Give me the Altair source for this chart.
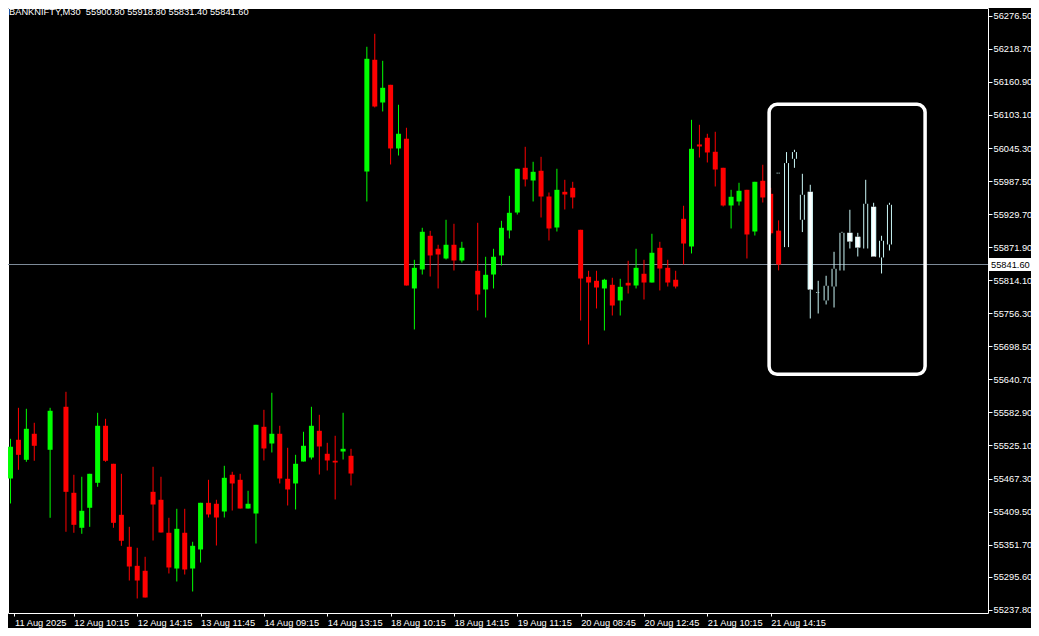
import json
import altair as alt
import pandas as pd

# ---------------- data ----------------
slot = [0, 1, 2, 3, 5, 7, 8, 9, 10, 11, 12, 13, 14, 15, 16, 17, 18, 19, 20, 21, 22, 23, 24, 25, 26, 27,
        28, 29, 30, 31, 32, 33, 34, 35, 36, 37, 38, 39, 40, 41, 42, 43,
        45, 46, 47, 48, 49, 50, 51, 52, 53, 54, 55, 56, 57,
        59, 60, 61, 62, 63, 64, 65, 66, 67, 68, 69, 70, 71, 72, 73, 74, 75, 76, 77, 78, 79, 80,
        81, 82, 83, 84, 85, 86, 87, 88, 89, 90, 91, 92, 93, 94, 95, 96, 97]
op = [55467.4, 55535.1, 55500.1, 55545.6, 55517.6, 55592.8, 55442.4, 55381.2, 55416.2, 55459.9,
      55559.6, 55493.1, 55403.9, 55348.0, 55314.7, 55306.0, 55444.1, 55430.2, 55372.5, 55310.0,
      55372.5, 55310.0, 55343.3, 55424.9, 55423.2, 55409.7, 55473.9, 55465.1, 55414.9, 55406.2,
      55557.8, 55528.6, 55545.6, 55466.9, 55458.7, 55497.1, 55504.1, 55550.8, 55510.6, 55498.4,
      55514.6, 55507.1,
      56004.2, 56199.6, 56124.9, 56155.8, 56044.5, 56061.4, 55799.7, 55832.9, 55891.8, 55869.1,
      55852.1, 55876.1, 55848.6,
      55830.6, 55797.9, 55824.1, 55857.4, 55901.1, 55932.5, 56010.7, 55988.5, 56005.5, 55960.5,
      55906.3, 55968.7, 55975.7, 55902.3, 55820.1, 55813.1, 55799.7, 55806.1, 55778.7, 55809.6,
      55804.9, 55825.4, 55810.1, 55870.8, 55835.8, 55814.9, 55921.5, 55873.1, 56051.5, 56063.2,
      56038.7, 56010.7, 55944.8, 55951.8, 55972.2, 55899.3, 55988.0, 55965.2, 55900.8]
hi = [55536.8, 55591.0, 55589.3, 55564.8, 55591.0, 55619.0, 55473.9, 55470.4, 55475.6, 55582.3,
      55571.8, 55493.1, 55475.6, 55382.9, 55346.2, 55330.5, 55487.9, 55470.4, 55398.7, 55414.4,
      55414.4, 55356.7, 55424.9, 55465.1, 55430.2, 55489.6, 55479.1, 55475.6, 55445.9, 55561.3,
      55587.5, 55617.3, 55559.6, 55521.1, 55508.8, 55549.1, 55592.8, 55578.8, 55529.8, 55542.1,
      55582.3, 55519.3,
      56222.3, 56245.0, 56197.8, 56155.8, 56120.9, 56080.7, 55849.8, 55905.8, 55900.5, 55876.1,
      55919.8, 55912.8, 55881.3,
      55914.5, 55855.1, 55869.1, 55918.0, 55961.7, 56009.0, 56047.4, 56021.2, 56029.9, 55967.5,
      56009.0, 55989.7, 55986.2, 55902.3, 55830.6, 55830.6, 55816.6, 55818.4, 55816.6, 55848.1,
      55869.1, 55849.8, 55895.3, 55881.3, 55849.8, 55830.6, 55944.3, 56094.6, 56085.9, 56070.2,
      56073.7, 56010.7, 55972.2, 55984.5, 55972.2, 55986.2, 56016.0, 55975.7, 55918.8]
lo = [55423.7, 55482.6, 55496.6, 55498.4, 55398.7, 55374.2, 55372.5, 55370.7, 55382.9, 55452.9,
      55496.6, 55381.2, 55349.7, 55289.0, 55257.6, 55259.3, 55359.0, 55373.0, 55301.3, 55287.3,
      55299.5, 55269.8, 55320.5, 55399.2, 55350.2, 55399.2, 55411.4, 55414.9, 55414.9, 55353.7,
      55498.9, 55512.9, 55458.7, 55420.2, 55413.2, 55497.1, 55500.6, 55474.4, 55481.4, 55430.7,
      55500.6, 55455.2,
      55951.8, 56116.2, 56109.2, 56016.5, 56032.2, 55804.9, 55728.0, 55824.1, 55820.6, 55799.7,
      55850.4, 55831.1, 55845.1,
      55761.2, 55748.9, 55799.7, 55839.9, 55887.1, 55929.0, 55978.0, 55951.8, 55923.8, 55883.6,
      55899.3, 55937.8, 55939.5, 55743.7, 55701.7, 55764.7, 55726.2, 55752.4, 55752.4, 55790.9,
      55799.7, 55780.4, 55810.1, 55796.2, 55803.1, 55799.7, 55841.6, 55860.9, 56028.7, 56020.0,
      55978.0, 55943.0, 55904.6, 55944.8, 55852.1, 55892.3, 55950.0, 55893.5, 55831.4]
cl = [55522.8, 55508.8, 55554.3, 55524.6, 55585.8, 55444.1, 55386.4, 55410.9, 55475.6, 55559.6,
      55498.4, 55389.9, 55358.5, 55313.5, 55289.0, 55259.3, 55421.9, 55373.0, 55311.8, 55379.4,
      55308.3, 55349.7, 55424.9, 55404.5, 55399.2, 55468.6, 55458.7, 55414.9, 55423.2, 55561.3,
      55519.9, 55545.6, 55467.4, 55448.2, 55493.1, 55524.6, 55559.6, 55523.4, 55498.9, 55495.4,
      55519.3, 55476.1,
      56201.3, 56117.9, 56150.6, 56044.5, 56070.2, 55804.9, 55835.8, 55898.8, 55857.4, 55859.1,
      55876.1, 55848.6, 55870.8,
      55789.2, 55823.6, 55855.1, 55905.8, 55932.0, 56009.0, 55990.3, 56003.7, 55960.5, 55904.6,
      55972.2, 55964.0, 55958.8, 55817.1, 55810.1, 55801.4, 55814.9, 55769.9, 55802.6, 55804.9,
      55835.8, 55810.1, 55862.1, 55834.6, 55810.1, 55803.1, 55878.3, 56043.9, 56048.0, 56037.5,
      56007.7, 55944.8, 55960.0, 55970.5, 55894.1, 55986.2, 55958.8, 55896.2, 55841.6]

# overlay ("ghost") candles inside the highlighted box
g_slot = [97, 98, 99, 100, 101, 102, 103, 104, 105, 106, 107, 108, 109, 110, 111]
g_op = [56001.4, 55872.0, 56026.4, 55919.8, 55968.7, 55792.7, 55778.7, 55803.1, 55831.1, 55897.0,
        55890.1, 55869.6, 55942.5, 55853.9, 55876.6]
g_hi = [56001.4, 56038.2, 56042.2, 56000.2, 55981.0, 55813.1, 55821.9, 55863.8, 55898.8, 55937.3,
        55897.0, 55989.7, 55949.5, 55891.8, 55949.5]
g_lo = [56001.4, 55872.0, 56010.7, 55898.3, 55747.2, 55755.9, 55771.7, 55766.4, 55831.1, 55869.6,
        55855.6, 55869.6, 55855.6, 55825.9, 55866.1]
g_cl = [56001.4, 56018.9, 56038.2, 55963.5, 55797.9, 55792.7, 55804.4, 55834.1, 55897.0, 55881.8,
        55871.3, 55947.8, 55855.6, 55883.1, 55946.0]

date_ticks = [0.5, 8, 16, 24, 32, 40, 48, 56, 64, 72, 80, 88, 96]
date_labels = ["11 Aug 2025", "12 Aug 10:15", "12 Aug 14:15", "13 Aug 11:45", "14 Aug 09:15",
               "14 Aug 13:15", "18 Aug 10:15", "18 Aug 14:15", "19 Aug 11:15", "20 Aug 08:45",
               "20 Aug 12:45", "21 Aug 10:15", "21 Aug 14:15"]
price_ticks = [56276.50, 56218.70, 56160.90, 56103.10, 56045.30, 55987.50, 55929.70, 55871.90,
               55814.10, 55756.30, 55698.50, 55640.70, 55582.90, 55525.10, 55467.30, 55409.50,
               55351.70, 55295.60, 55237.80]

title_text = "BANKNIFTY,M30\u00a0 55900.80 55918.80 55831.40 55841.60"
last_price = 55841.60

box_slot = [95.8, 115.5]
box_price = [55649.6, 56121.7]

# ---------------- chart ----------------
FONT = "Liberation Sans"
FS = 9.3
GHOST = "#c8f4f4"

xs = alt.Scale(domain=[0.3125, 122.8125], nice=False, zero=False)
ys = alt.Scale(domain=[55232.2, 56290.13], nice=False, zero=False)

xax = alt.Axis(values=date_ticks,
               labelExpr=f"{json.dumps(date_labels)}[round(datum.value / 8)]",
               orient="bottom", labelAlign="left", labelBaseline="top", tickSize=3,
               labelPadding=2, domain=False, grid=False, title=None,
               labelOverlap=False, labelFlush=False, labelBound=False)
yax = alt.Axis(values=price_ticks, format=".2f", orient="right", tickSize=4, labelPadding=1,
               domain=False, grid=False, title=None,
               labelOverlap=False, labelFlush=False, labelBound=False)


def X(f):
    return alt.X(f, type="quantitative", scale=xs, axis=xax)


def Y(f):
    return alt.Y(f, type="quantitative", scale=ys, axis=yax)


main = pd.DataFrame({"k": slot, "o": op, "h": hi, "l": lo, "c": cl})
ghost = pd.DataFrame({"k": g_slot, "o": g_op, "h": g_hi, "l": g_lo, "c": g_cl})
pdf = pd.DataFrame({"p": [last_price], "t": [f"{last_price:.2f}"]})
tdf = pd.DataFrame({"t": [title_text]})
bdf = pd.DataFrame({"x0": [box_slot[0]], "x1": [box_slot[1]], "p0": [box_price[0]], "p1": [box_price[1]]})

hline = alt.Chart(pdf).mark_rule(color="#7d8a98", strokeWidth=1).encode(y=Y("p"))

base = alt.Chart(main).transform_calculate(
    col="datum.c >= datum.o ? '#00ff00' : '#ff0000'")
wick = base.mark_rule(strokeWidth=1).encode(
    x=X("k"), y=Y("h"), y2=alt.Y2("l"), color=alt.Color("col:N", scale=None))
body = base.mark_bar(size=5).encode(
    x=X("k"), y=Y("o"), y2=alt.Y2("c"), color=alt.Color("col:N", scale=None))

gbase = alt.Chart(ghost).transform_calculate(
    top="max(datum.o, datum.c)", bot="min(datum.o, datum.c)",
    xa="datum.k - 0.25", xb="datum.k + 0.25")
g_up = gbase.mark_rule(color=GHOST, strokeWidth=1).encode(x=X("k"), y=Y("h"), y2=alt.Y2("top"))
g_dn = gbase.mark_rule(color=GHOST, strokeWidth=1).encode(x=X("k"), y=Y("bot"), y2=alt.Y2("l"))
g_fill = gbase.transform_filter("datum.c < datum.o").mark_bar(size=5, color="#ffffff").encode(
    x=X("k"), y=Y("o"), y2=alt.Y2("c"))
g_left = gbase.transform_filter("datum.c != datum.o").mark_rule(
    color=GHOST, strokeWidth=1, xOffset=-2).encode(x=X("k"), y=Y("top"), y2=alt.Y2("bot"))
g_right = gbase.transform_filter("datum.c != datum.o").mark_rule(
    color=GHOST, strokeWidth=1, xOffset=2).encode(x=X("k"), y=Y("top"), y2=alt.Y2("bot"))
g_doji = gbase.transform_filter("datum.c == datum.o").mark_rule(
    color=GHOST, strokeWidth=1, strokeDash=[1, 1]).encode(x=X("xa"), x2=alt.X2("xb"), y=Y("o"))

box = alt.Chart(bdf).mark_rect(fillOpacity=0, stroke="#ffffff", strokeWidth=3.5,
                               cornerRadius=8).encode(
    x=X("x0"), x2=alt.X2("x1"), y=Y("p0"), y2=alt.Y2("p1"))

plabel_bg = alt.Chart(pdf).transform_calculate(
    p0="datum.p - 11.4", p1="datum.p + 11.4").mark_rect(color="#ffffff").encode(
    x=alt.value(980), x2=alt.value(1023), y=Y("p0"), y2=alt.Y2("p1"))
plabel = alt.Chart(pdf).mark_text(align="left", baseline="middle", color="#000000",
                                  font=FONT, fontSize=FS).encode(
    x=alt.value(983), y=Y("p"), text="t:N")

title = alt.Chart(tdf).mark_text(align="left", baseline="middle", color="#ffffff",
                                 font=FONT, fontSize=FS).encode(
    x=alt.value(1), y=alt.value(4), text="t:N")

chart = alt.layer(
    hline, wick, body, g_up, g_dn, g_fill, g_left, g_right, g_doji, box,
    plabel_bg, plabel, title
).properties(
    width=980, height=605,
    autosize=alt.AutoSizeParams(type="none"),
    padding={"left": 0, "top": 0, "right": 43, "bottom": 15},
).configure(
    background="#000000"
).configure_view(
    stroke="#ffffff", strokeWidth=1
).configure_axis(
    labelColor="#ffffff", tickColor="#ffffff", labelFont=FONT, labelFontSize=FS
)

chart.save("out.html", embed_options={"renderer": "svg", "actions": False})
